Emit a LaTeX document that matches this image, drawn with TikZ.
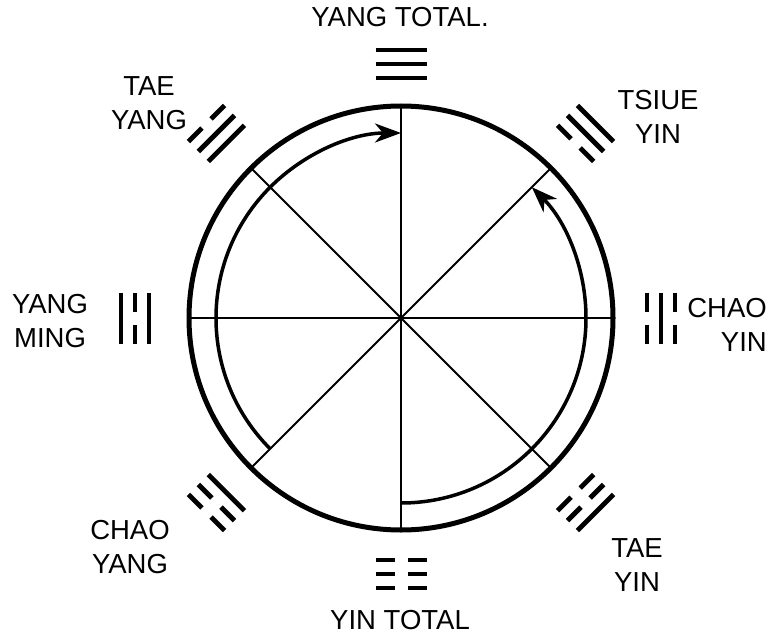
\documentclass[tikz,border=0pt]{standalone}
\usepackage{fontspec}
\setmainfont{Liberation Sans}
\usetikzlibrary{arrows.meta,calc}
\newcommand\trigramdraw[5]{%
  \begin{scope}[shift={(O)},rotate=#1-90]
    \foreach \b [count=\i from 0] in {#3,#4,#5}{%
      \pgfmathsetmacro\yy{#2+(\i-1)*14}
      \ifnum\b=1
        \draw[triline] (-25.5,\yy) -- (25.5,\yy);
      \else
        \draw[triline] (-25.5,\yy) -- (-6.5,\yy);
        \draw[triline] (6.5,\yy) -- (25.5,\yy);
      \fi
    }
  \end{scope}}
\begin{document}
\begin{tikzpicture}[x=1pt,y=1pt,
  triline/.style={line width=4.8pt,line cap=butt},
  spoke/.style={line width=2pt},
  rim/.style={line width=5pt},
  flow/.style={line width=3.5pt,-{Stealth[length=26pt,width=19pt,inset=8pt]}},
  lab/.style={font=\fontsize{27.5}{34}\selectfont,inner sep=0pt,align=center}]
\useasboundingbox (0,0) rectangle (783,641);
\coordinate (O) at (401,323);
\foreach \a in {0,45,...,315}{\coordinate (p\a) at ($(O)+(\a:212)$);}
\foreach \a in {0,45,90,135}{%
  \pgfmathtruncatemacro\b{\a+180}
  \draw[spoke] (p\a) -- (p\b);}
\draw[rim] (O) circle[radius=212];
\coordinate (s1) at ($(O)+(225:185)$);
\coordinate (s2) at ($(O)+(270:185)$);
\draw[flow] (s1) arc[start angle=225,end angle=90,radius=185];
\draw[flow] (s2) arc[start angle=-90,end angle=45,radius=185];
% trigrams: inner, middle, outer (1 = solid, 0 = broken)
\trigramdraw{90}{254}{1}{1}{1}
\trigramdraw{270}{256}{0}{0}{0}
\trigramdraw{180}{266}{1}{0}{1}
\trigramdraw{0}{260}{0}{1}{0}
\trigramdraw{135}{261}{1}{1}{0}
\trigramdraw{45}{261}{0}{1}{1}
\trigramdraw{225}{261}{1}{0}{0}
\trigramdraw{315}{261}{0}{0}{1}
\node[lab] (t1) at (400,624) {YANG TOTAL.};
\node[lab] (t2) at (149,538) {TAE\\YANG};
\node[lab] (t3) at (658,524) {TSIUE\\YIN};
\node[lab] (t4) at (50,320) {YANG\\MING};
\node[lab,align=right,anchor=east] (t5) at (767,316) {CHAO\\YIN};
\node[lab] (t6) at (130,94) {CHAO\\YANG};
\node[lab] (t7) at (637,76) {TAE\\YIN};
\node[lab] (t8) at (400,21) {YIN TOTAL};
\end{tikzpicture}
\end{document}
